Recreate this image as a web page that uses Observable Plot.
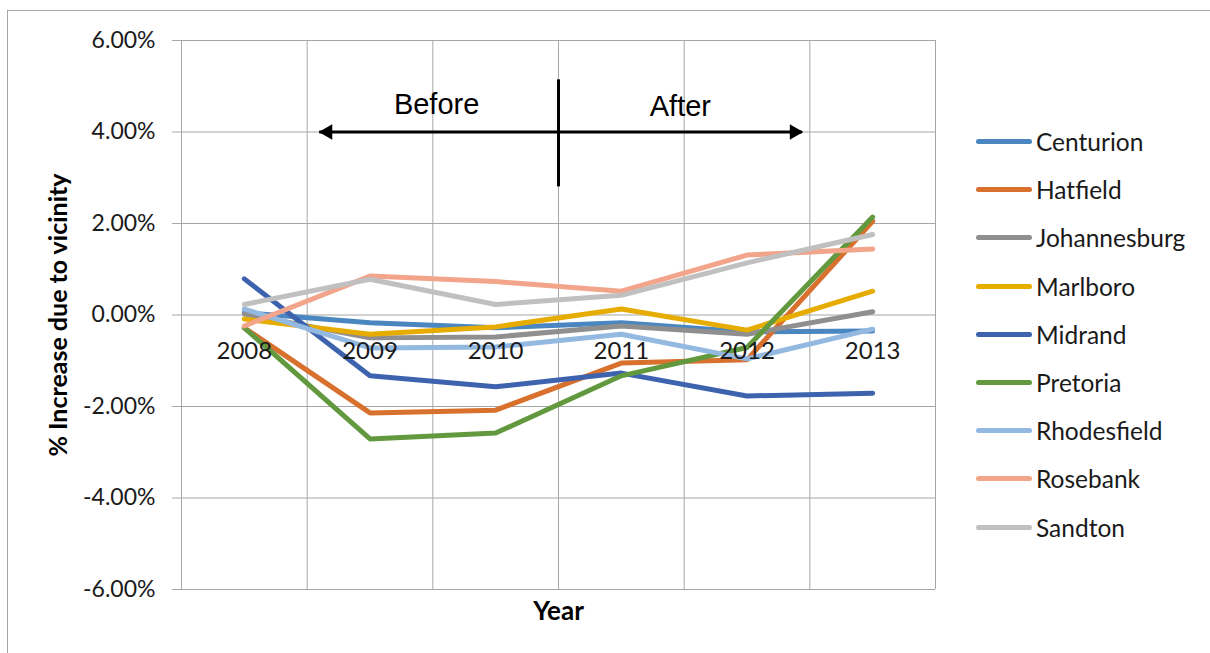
<!DOCTYPE html>
<html>
<head>
<meta charset="utf-8">
<script src="https://cdn.jsdelivr.net/npm/d3@7"></script>
<script src="https://cdn.jsdelivr.net/npm/@observablehq/plot@0.6"></script>
<style>
  html, body { margin: 0; padding: 0; background: #fff; }
  #wrap { position: relative; width: 1210px; height: 653px; overflow: hidden; }
  #frame { position: absolute; left: 7px; top: 10px; width: 1300px; height: 700px; border-left: 1px solid #a6a6a6; border-top: 1px solid #a6a6a6; }
  #chart { position: absolute; left: 0; top: 0; }
  #legend { position: absolute; left: 976px; top: 0; font-family: Lato, "Open Sans", sans-serif; font-size: 24.5px; color: #1a1a1a; }
  .item { position: absolute; left: 0; display: flex; align-items: center; white-space: nowrap; }
  .swatch { width: 56px; height: 5px; border-radius: 3px; margin-right: 4px; }
</style>
</head>
<body>
<div id="wrap">
  <div id="frame"></div>
  <div id="chart"></div>
  <div id="legend"></div>
</div>
<script>
// ---- data ----
const years = [2008, 2009, 2010, 2011, 2012, 2013];
const seriesNames = ["Centurion", "Hatfield", "Johannesburg", "Marlboro", "Midrand", "Pretoria", "Rhodesfield", "Rosebank", "Sandton"];
const seriesColors = ["#4a86c0", "#d8702e", "#8f8f8f", "#e6ac00", "#3d63ae", "#62993e", "#93b9e1", "#f2a58a", "#c0c0c0"];
const Centurion    = [0.05, -0.17, -0.28, -0.17, -0.37, -0.35];
const Hatfield     = [-0.28, -2.14, -2.08, -1.05, -0.98, 2.05];
const Johannesburg = [0.02, -0.50, -0.48, -0.24, -0.42, 0.07];
const Marlboro     = [-0.09, -0.42, -0.26, 0.13, -0.33, 0.52];
const Midrand      = [0.79, -1.33, -1.57, -1.27, -1.77, -1.71];
const Pretoria     = [-0.28, -2.71, -2.58, -1.33, -0.71, 2.14];
const Rhodesfield  = [0.13, -0.72, -0.70, -0.42, -0.96, -0.31];
const Rosebank     = [-0.24, 0.85, 0.73, 0.52, 1.31, 1.44];
const Sandton      = [0.23, 0.78, 0.23, 0.43, 1.14, 1.76];
const seriesValues = [Centurion, Hatfield, Johannesburg, Marlboro, Midrand, Pretoria, Rhodesfield, Rosebank, Sandton];
const yTicks = [-6, -4, -2, 0, 2, 4, 6];

// annotation: before/after arrow
const arrowY = 4.0;
const arrowX = [2008.6, 2012.44];
const dividerX = 2010.5;
const dividerY = [5.14, 2.8];
const annoLabels = [{x: 2009.53, y: 4.6, text: "Before"}, {x: 2011.47, y: 4.56, text: "After"}];

// ---- build table ----
const rows = [];
seriesNames.forEach((name, i) => {
  years.forEach((yr, j) => rows.push({series: name, year: yr, value: seriesValues[i][j]}));
});

const font = 'Lato, "Open Sans", sans-serif';
const chart = Plot.plot({
  width: 1210,
  height: 653,
  marginLeft: 181,
  marginRight: 275,
  marginTop: 40,
  marginBottom: 64,
  style: {fontFamily: font, background: "transparent", overflow: "visible"},
  x: {domain: [2007.5, 2013.5], axis: null},
  y: {domain: [-6, 6], axis: null},
  color: {domain: seriesNames, range: seriesColors},
  marks: [
    Plot.ruleY(yTicks, {stroke: "#a6a6a6", strokeWidth: 1}),
    Plot.ruleX(d3.range(2007.5, 2014, 1), {stroke: "#a6a6a6", strokeWidth: 1}),
    Plot.axisY({ticks: yTicks, tickFormat: d => d.toFixed(2) + "%", tickSize: 9, tickPadding: 17, stroke: "#a6a6a6", fontSize: 23, fill: "#1a1a1a", label: null}),
    Plot.line(rows, {x: "year", y: "value", z: "series", stroke: "series", strokeWidth: 5, strokeLinejoin: "round", strokeLinecap: "round"}),
    Plot.text(years, {x: d => d, y: 0, dy: 36, text: d => String(d), fontSize: 24, fill: "#1a1a1a"}),
    // annotation
    Plot.ruleY([arrowY], {x1: arrowX[0], x2: arrowX[1], stroke: "black", strokeWidth: 3}),
    Plot.dot([{x: arrowX[0]}], {x: "x", y: arrowY, symbol: "triangle", r: 5.8, fill: "black", stroke: null, rotate: -90, dx: 8}),
    Plot.dot([{x: arrowX[1]}], {x: "x", y: arrowY, symbol: "triangle", r: 5.8, fill: "black", stroke: null, rotate: 90, dx: -8}),
    Plot.ruleX([dividerX], {y1: dividerY[0], y2: dividerY[1], stroke: "black", strokeWidth: 3}),
    Plot.text(annoLabels, {x: "x", y: "y", text: "text", fontSize: 29, fontFamily: '"Liberation Sans", Arial, sans-serif', fill: "black"}),
    // axis titles
    Plot.text(["% Increase due to vicinity"], {frameAnchor: "left", textAnchor: "middle", dx: -123, rotate: -90, fontSize: 25, fontWeight: "bold", fill: "black"}),
    Plot.text(["Year"], {frameAnchor: "bottom", dy: 30, fontSize: 26, fontWeight: "bold", fill: "black"})
  ]
});
document.getElementById("chart").appendChild(chart);

// legend
const legend = document.getElementById("legend");
seriesNames.forEach((name, i) => {
  const it = document.createElement("div");
  it.className = "item";
  it.style.top = (141.5 + i * 48.2 - 15) + "px";
  it.style.height = "30px";
  const sw = document.createElement("div");
  sw.className = "swatch";
  sw.style.background = seriesColors[i];
  const tx = document.createElement("span");
  tx.textContent = name;
  it.appendChild(sw);
  it.appendChild(tx);
  legend.appendChild(it);
});
</script>
</body>
</html>
